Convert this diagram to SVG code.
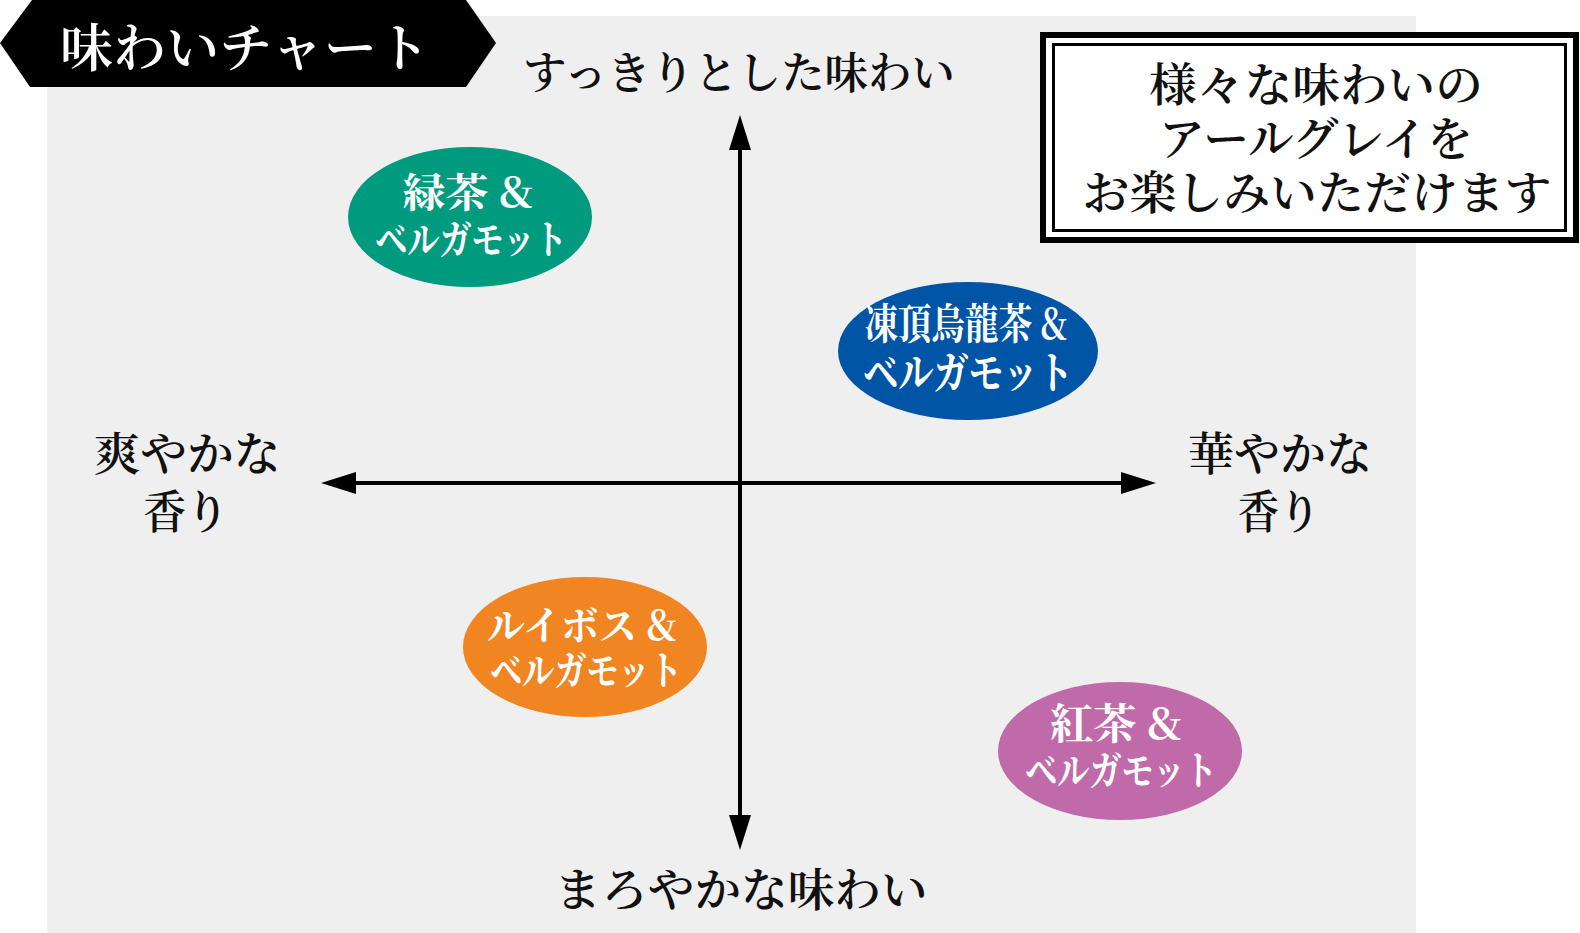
<svg xmlns="http://www.w3.org/2000/svg" width="1580" height="933" viewBox="0 0 1580 933">
<style>
.jp{font-family:"Noto Serif CJK JP","Noto Sans CJK JP",serif;font-weight:600;text-anchor:middle}
.blk{fill:#111}
.wht{fill:#fff}
.nd{font-weight:700}
.ax{stroke:#000;stroke-width:4;fill:none}
</style>
<defs>
<marker id="ah" markerUnits="userSpaceOnUse" markerWidth="36" markerHeight="24" viewBox="0 -12 36 24" refX="0" refY="0" orient="auto-start-reverse">
<path d="M0,-11 L35,0 L0,11 Z" fill="#000"/>
</marker>
</defs>
<rect x="0" y="0" width="1580" height="933" fill="#fff"/>
<rect id="panel" x="47" y="16" width="1369" height="917" fill="#efefef"/>
<g id="title">
<polygon points="32,0 466,0 496,43 466,87 30,87 0,43" fill="#000"/>
<text class="jp wht" x="245" y="67" font-size="52" textLength="370" lengthAdjust="spacingAndGlyphs">味わいチャート</text>
</g>
<g id="connectors">
<line class="ax" x1="740" y1="150" x2="740" y2="815" marker-start="url(#ah)" marker-end="url(#ah)"/>
<line class="ax" x1="356" y1="483" x2="1121" y2="483" marker-start="url(#ah)" marker-end="url(#ah)"/>
</g>
<g id="label-top"><text class="jp blk" x="739" y="89" font-size="44" textLength="432" lengthAdjust="spacingAndGlyphs">すっきりとした味わい</text></g>
<g id="label-bottom"><text class="jp blk" x="741" y="906" font-size="46" textLength="373" lengthAdjust="spacingAndGlyphs">まろやかな味わい</text></g>
<g id="label-left">
<text class="jp blk" x="187" y="470" font-size="46" textLength="187" lengthAdjust="spacingAndGlyphs">爽やかな</text>
<text class="jp blk" x="186" y="528" font-size="46" textLength="85" lengthAdjust="spacingAndGlyphs">香り</text>
</g>
<g id="label-right">
<text class="jp blk" x="1280" y="470" font-size="46" textLength="184" lengthAdjust="spacingAndGlyphs">華やかな</text>
<text class="jp blk" x="1279" y="528" font-size="46" textLength="82" lengthAdjust="spacingAndGlyphs">香り</text>
</g>
<g id="note">
<rect x="1043" y="35" width="533" height="205" fill="#fff" stroke="#000" stroke-width="6"/>
<rect x="1053.5" y="44.5" width="512" height="186" fill="none" stroke="#000" stroke-width="3"/>
<text class="jp blk" x="1316" y="101" font-size="46" textLength="334" lengthAdjust="spacingAndGlyphs">様々な味わいの</text>
<text class="jp blk" x="1316" y="155" font-size="46" textLength="314" lengthAdjust="spacingAndGlyphs">アールグレイを</text>
<text class="jp blk" x="1317" y="209" font-size="46" textLength="469" lengthAdjust="spacingAndGlyphs">お楽しみいただけます</text>
</g>
<g id="node-green">
<ellipse cx="470" cy="217" rx="122" ry="70" fill="#009b7e"/>
<text class="jp wht nd" x="468" y="207" font-size="40" textLength="131" lengthAdjust="spacingAndGlyphs">緑茶 &amp;</text>
<text class="jp wht nd" x="471" y="254" font-size="40" textLength="192" lengthAdjust="spacingAndGlyphs">ベルガモット</text>
</g>
<g id="node-blue">
<ellipse cx="968" cy="351" rx="130" ry="69" fill="#0055a6"/>
<text class="jp wht nd" x="966" y="339" font-size="42" textLength="203" lengthAdjust="spacingAndGlyphs">凍頂烏龍茶 &amp;</text>
<text class="jp wht nd" x="968" y="389" font-size="44" textLength="210" lengthAdjust="spacingAndGlyphs">ベルガモット</text>
</g>
<g id="node-orange">
<ellipse cx="585" cy="647" rx="122" ry="70" fill="#f08522"/>
<text class="jp wht nd" x="582" y="640" font-size="40" textLength="190" lengthAdjust="spacingAndGlyphs">ルイボス &amp;</text>
<text class="jp wht nd" x="586" y="685" font-size="40" textLength="192" lengthAdjust="spacingAndGlyphs">ベルガモット</text>
</g>
<g id="node-pink">
<ellipse cx="1120" cy="751" rx="122" ry="69" fill="#c06aaa"/>
<text class="jp wht nd" x="1116" y="739" font-size="42" textLength="132" lengthAdjust="spacingAndGlyphs">紅茶 &amp;</text>
<text class="jp wht nd" x="1121" y="785" font-size="40" textLength="192" lengthAdjust="spacingAndGlyphs">ベルガモット</text>
</g>
</svg>
